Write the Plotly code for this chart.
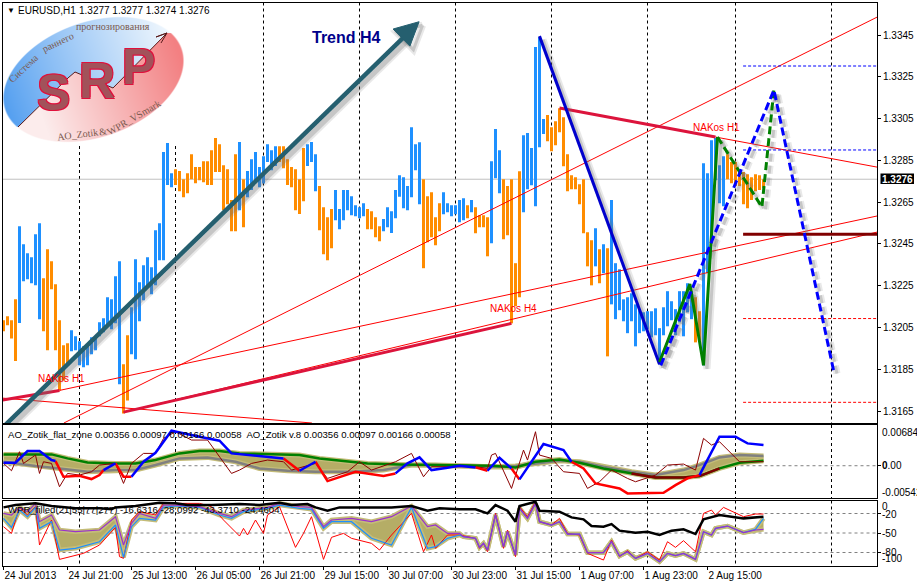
import base64, struct, zlib
import numpy as np
import plotly.graph_objects as go

W, H = 917, 583

# ---------- price bars (H1) ----------
bar_high = [
 1.32085,1.32104,1.32085,1.32185,1.32535,1.32449,1.32406,1.32387,1.32497,1.32549,
 1.32286,1.32425,1.32367,1.32257,1.32085,1.31965,1.31975,1.32037,1.32008,1.31984,
 1.31960,1.31960,1.32003,1.32003,1.32075,1.32094,1.32195,1.32185,1.32296,1.32367,
 1.31874,1.32013,1.32147,1.32377,1.32267,1.32348,1.32387,1.32339,1.32516,1.32549,
 1.32890,1.32933,1.32789,1.32808,1.32799,1.32760,1.32789,1.32880,1.32818,1.32818,
 1.32846,1.32846,1.32899,1.32957,1.32928,1.32827,1.32808,1.32660,1.32880,1.32938,
 1.32760,1.32799,1.32856,1.32890,1.32818,1.32870,1.32928,1.32899,1.32918,1.32918,
 1.32918,1.32856,1.32818,1.32808,1.32760,1.32909,1.32928,1.32938,1.32880,1.32727,
 1.32626,1.32578,1.32617,1.32708,1.32617,1.32708,1.32708,1.32679,1.32636,1.32626,
 1.32645,1.32617,1.32607,1.32578,1.32535,1.32569,1.32626,1.32607,1.32708,1.32779,
 1.32770,1.32727,1.33009,1.32928,1.32937,1.32760,1.32679,1.32698,1.32578,1.32645,
 1.32698,1.32645,1.32636,1.32636,1.32660,1.32669,1.32636,1.32660,1.32626,1.32588,
 1.32588,1.32578,1.32846,1.33000,1.32899,1.32760,1.32727,1.32760,1.32358,1.32798,
 1.32971,1.32981,1.32909,1.33393,1.33440,1.33048,1.33067,1.33009,1.33038,1.33100,
 1.33057,1.32880,1.32779,1.32770,1.32736,1.32760,1.32506,1.32468,1.32525,1.32425,
 1.32449,1.32430,1.32660,1.32358,1.32329,1.32185,1.32195,1.32214,1.32161,1.32133,
 1.32123,1.32128,1.32128,1.32142,1.32047,1.32147,1.32224,1.32176,1.32138,1.32224,
 1.32224,1.32262,1.32224,1.32195,1.32128,1.32837,1.32789,1.32947,1.32957,1.32827,
 1.32870,1.32880,1.32842,1.32842,1.32803,1.32794,1.32784,1.32770,1.32784,1.32779,
 1.32760]
bar_low = [
 1.32032,1.32061,1.31998,1.31890,1.32072,1.32272,1.32281,1.32262,1.32252,1.32090,
 1.32032,1.31941,1.32233,1.31941,1.31749,1.31797,1.31877,1.31936,1.31941,1.31869,
 1.31860,1.31869,1.31922,1.31941,1.32008,1.32027,1.32061,1.32042,1.32070,1.31778,
 1.31638,1.31701,1.31922,1.31898,1.32080,1.32181,1.32252,1.32209,1.32252,1.32372,
 1.32372,1.32732,1.32722,1.32732,1.32703,1.32674,1.32693,1.32760,1.32741,1.32755,
 1.32746,1.32732,1.32732,1.32794,1.32794,1.32612,1.32640,1.32511,1.32511,1.32612,
 1.32530,1.32674,1.32708,1.32755,1.32722,1.32739,1.32842,1.32803,1.32823,1.32842,
 1.32813,1.32732,1.32722,1.32612,1.32593,1.32655,1.32823,1.32842,1.32703,1.32516,
 1.32401,1.32372,1.32430,1.32564,1.32521,1.32564,1.32612,1.32588,1.32583,1.32573,
 1.32583,1.32521,1.32521,1.32482,1.32463,1.32511,1.32530,1.32502,1.32573,1.32676,
 1.32621,1.32612,1.32674,1.32803,1.32640,1.32334,1.32458,1.32482,1.32444,1.32511,
 1.32592,1.32602,1.32583,1.32592,1.32554,1.32564,1.32573,1.32602,1.32501,1.32530,
 1.32530,1.32391,1.32454,1.32765,1.32693,1.32473,1.32492,1.32070,1.32152,1.32195,
 1.32602,1.32712,1.32731,1.32631,1.32913,1.32976,1.32942,1.32894,1.32923,1.32985,
 1.32822,1.32703,1.32712,1.32712,1.32640,1.32501,1.32343,1.32252,1.32343,1.32262,
 1.32310,1.31912,1.32161,1.32090,1.32133,1.32080,1.32023,1.32080,1.31960,1.32023,
 1.32032,1.32042,1.32003,1.32013,1.31874,1.32013,1.32056,1.32085,1.32013,1.32075,
 1.32008,1.32123,1.32090,1.31979,1.31989,1.31869,1.32310,1.32454,1.32755,1.32645,
 1.32631,1.32760,1.32741,1.32727,1.32727,1.32640,1.32621,1.32660,1.32703,1.32708,
 1.32717]
bar_dir = ("DDDDUUUUUU" "DDDDDDDUUU" "UUUUUUUUUU" "DDUUUUUUUU" "UUUDDDDDDD"
           "DDDDDDDDDU" "DUUUUUUUUD" "DDDDDDUUUD" "DDDUUUUUUU" "UDDDDUUUUU"
           "UUUUUDDDDD" "UUUUUUDUDD" "DDUUUDDDDD" "UUUUUUDDDD" "DDDDDDDDUD"
           "UDUUUUUUUU" "UUUUUUUUUU" "UUUDDUUUUU" "UDDDDDDDDD" "D")

# ---------- trend objects on the price pane (bar index, price) ----------
trend_arrow_x = [-0.1, 100.6]
trend_arrow_p = [1.31573, 1.33450]
arrow_head_x = [103.9, 97.4, 101.6, 103.9]
arrow_head_p = [1.33514, 1.33479, 1.33397, 1.33514]
thick_a_x, thick_a_p = [30, 127], [1.31645, 1.32070]
thick_b_x, thick_b_p = [139, 178], [1.33101, 1.32962]
thick_c_x, thick_c_p = [-0.2, 14], [1.31703, 1.31749]
thin_lines = [
    ([14, 218.4], [1.31749, 1.32584]),
    ([30, 218.4], [1.31645, 1.32507]),
    ([15.1, 218.4], [1.31593, 1.33536]),
    ([-0.2, 77.1], [1.31712, 1.31593]),
    ([178, 218.4], [1.32962, 1.32818]),
]
down_leg_x, down_leg_p = [134, 164], [1.33445, 1.31874]
green_x = [164, 171.6, 175, 178.5]
green_p = [1.31885, 1.32258, 1.31869, 1.32962]
green_fc_x = [178.5, 189.6, 192.6]
green_fc_p = [1.32962, 1.32627, 1.33187]
blue_fc_x = [164.3, 192.6, 207.6]
blue_fc_p = [1.31869, 1.33187, 1.31837]
level_x = [184.9, 218.4]
level_blue = [1.33302, 1.32900]
level_red = [1.32093, 1.31692]
level_dark = 1.32497
last_price = 1.3276

# ---------- AO pane (values x 1e-5) ----------
ao_green_i = [0,8,12,16,21,28,33,38,44,49,54,59,66,74,79,86,91,99,108,114,
              122,128,133,139,144,150,157,163,170,174,179,184,190]
ao_green_v = [190,190,190,123,56,39,39,95,207,246,246,207,190,179,123,67,39,22,11,0,
              0,-28,67,106,50,-45,-129,-196,-196,-174,-45,50,84]
ao_grey_i = [0,8,14,21,28,33,38,44,51,58,64,71,78,87,95,102,108,114,
             122,128,133,139,144,150,157,163,170,174,179,184,190]
ao_grey_v = [67,-6,-45,-101,-73,-73,11,123,140,67,-45,-84,-101,-101,-73,11,11,0,
             -17,-6,39,84,67,-17,-101,-157,-73,11,140,179,162]
ao_rise = [
    ([0,3,6,9,12,13,], [50,50,246,246,95,78]),
    ([25,28], [-73,39]),
    ([32,35,38,42,49,54,57,70], [-185,67,218,588,487,420,207,123]),
    ([74,78], [-84,67]),
    ([98,101,104,107,111,114,118], [-129,39,140,-73,-34,0,-28]),
    ([121,124,127], [-84,134,-45]),
    ([129,135,140,142], [-230,364,263,67]),
    ([174,179,183,186,190], [-157,487,487,375,347]),
]
ao_fall = [
    ([13,15,19,22,24,25], [78,-185,-168,-224,-157,-73]),
    ([28,30,32], [39,-185,-185]),
    ([70,74], [123,-84]),
    ([78,81,88,95,98], [67,-258,-101,-174,-129]),
    ([118,121], [-28,-84]),
    ([127,129], [-45,-230]),
    ([142,145,148,154,156,165,168,171,174], [67,-45,-297,-381,-465,-454,-325,-213,-157]),
]
ao_raw_i = [0,2,4,5,8,9,10,12,14,16,19,22,24,28,30,32,35,38,40,43,47,51,57,59,62,66,70,72,78,81,86,89,92,98,102,105,107,110,114,
            118,121,122,123,125,127,130,131,133,134,137,140,144,146,149,152,156,158,163,166,170,173,175,177,179,184,190]
ao_raw_v = [39,-84,235,39,179,-129,67,39,-353,-129,-157,-101,11,39,-297,39,207,207,459,571,431,431,-129,-73,39,95,67,-73,39,-213,-101,67,-73,67,207,-185,-17,-17,-17,
            -17,-45,179,207,-73,-381,263,95,571,179,123,-101,-129,-381,-269,-73,-213,-269,-157,11,28,-73,459,347,403,67,67]

# ---------- WPR pane ----------
wpr_band_i = [0,2,4,6,8,9,12,14,18,24,28,30,32,34,38,40,43,49,54,57,60,66,69,74,77,80,82,87,92,97,102,106,108,111,114,
              115,118,119,120,121,123,125,126,128,129,131,133,134,137,139,141,144,146,150,152,154,156,158,161,164,166,168,170,173,175,177,178,181,185,188,190]
wpr_purple = [-19.8,-22.3,-10.6,-17.2,-4.4,-32.6,-22.3,-45.4,-48,-45.4,-24.9,-68.5,-35.2,-19.8,-27.5,-7,-7,-9.5,-19.8,-24.9,
              -14.7,-10.6,-4.4,-9.5,-10.6,-40.3,-30,-27.5,-32.6,-24.9,-8.5,-40.3,-37.7,-50.6,-50.6,
              -55.7,-58.2,-72.1,-65.9,-76.2,-22.3,-71,-48,-83.9,-12.1,-27.5,-4.4,-32.6,-37.7,-32.6,-51.6,-51.6,-80.3,-80.3,-63.4,
              -85.4,-78.8,-89,-81.3,-94.1,-81.3,-84.9,-81.3,-90.6,-48,-53.1,-42.9,-39.3,-49.5,-45.4,-44.4]
wpr_blue = [-27.5,-41.3,-14.7,-24.9,-10.6,-42.9,-32.6,-76.2,-73.6,-63.4,-37.7,-87.5,-40.3,-27.5,-30,-10.6,-8.5,-10.6,-22.3,-27.5,
            -17.2,-12.1,-7,-12.1,-13.6,-42.9,-32.6,-32.6,-58.2,-68.5,-10.6,-73.6,-71,-58.2,-53.1,
            -55.7,-58.2,-72.1,-65.9,-76.2,-22.3,-71,-48,-83.9,-12.1,-27.5,-4.4,-32.6,-37.7,-32.6,-51.6,-51.6,-80.3,-80.3,-63.4,
            -85.4,-78.8,-89,-81.3,-94.1,-81.3,-84.9,-81.3,-90.6,-48,-53.1,-42.9,-39.3,-49.5,-44.4,-27.5]
wpr_red_i = [0,2,4,6,8,9,12,14,20,24,28,29,30,32,34,38,40,49,52,55,59,60,61,63,65,66,69,73,75,77,80,82,85,87,92,94,97,102,105,107,108,111,114,
             118,119,120,121,123,125,126,128,129,131,133,134,137,139,141,144,146,150,152,154,156,158,161,164,166,168,170,173,175,177,178,180,185,188,190]
wpr_red = [-40.3,-50.6,-10.6,-22.3,-9.5,-68.5,-30,-90.6,-81.3,-68.5,-41.3,-86.4,-89,-30,-17.2,-22.3,-4.4,-4.4,-9.5,-30,
           -54.7,-42.9,-53.1,-30,-50.6,-22.3,-9.5,-72.1,-50.6,-24.9,-90.6,-56.7,-50.6,-58.2,-65.9,-76.2,-53.1,-19.8,-78.8,-53.1,-73.6,-53.1,-53.1,
           -58.2,-73.6,-65.9,-78.8,-19.8,-73.6,-45.4,-86.4,-9.5,-24.9,-1.8,-32.6,-37.7,-27.5,-50.6,-53.1,-81.3,-91.6,-60.8,-86.4,-77.2,-89,-78.8,-91.6,-63.4,-72.1,-61.8,-78.8,-19.8,-14.7,-22.3,-10.6,-24.9,-20.8,-20.8]
wpr_black_i = [0,3,8,12,18,24,27,28,33,36,39,43,46,52,59,64,69,72,76,78,81,84,91,97,102,106,109,114,
               118,121,123,126,128,129,133,134,139,142,145,147,150,152,154,158,161,164,167,170,173,175,179,185,190]
wpr_black = [-10.6,-7,-4.4,-8.5,-12.1,-12.1,-13.6,-10.6,-8.5,-5.4,-3.4,-4.4,-7,-7,-5.4,-7,-3.4,-7,-5.4,-10.6,-15.7,-10.6,-10.6,-10.6,-8.5,-15.7,-12.1,-13.6,
             -13.6,-19.8,-7,-15.7,-32.6,-8.5,-1.8,-15.7,-17.2,-26,-29,-39.3,-40.3,-36.2,-46.4,-49.5,-48,-53.1,-46.4,-44.4,-51.6,-29,-22.3,-27.5,-24.9]

# ---------- axes text ----------
price_ticks = [1.3165,1.3185,1.3205,1.3225,1.3245,1.3265,1.3285,1.3305,1.3325,1.3345]
time_tick_i = [0,16,32,48,64,80,96,112,128,144,160,176]
time_labels = ["24 Jul 2013","24 Jul 21:00","25 Jul 13:00","26 Jul 05:00","26 Jul 21:00","29 Jul 15:00",
               "30 Jul 07:00","30 Jul 23:00","31 Jul 15:00","1 Aug 07:00","1 Aug 23:00","2 Aug 15:00"]
session_i = [19,43,65,89,113,137,161,183,207]

FONT = "Liberation Sans"
BLUE, ORANGE = "#1E90FF", "#FF8C00"
KHAKI, OLIVE = "#C4BC78", "#B5AD66"
X_RANGE = [-0.25, 218.375]
P_RANGE = [1.31593, 1.33606]
PX_X = 4.0                 # px per bar
PX_P = 4.787e-5            # price per px


def yp(py):
    return 1 - py / H


def xp(px):
    return px / W


def logo_png():
    """Rotated ellipse with blue/pink gradients, as a small PNG with alpha."""
    s = 2
    w, h = 192 * s, 146 * s
    ys, xs = np.mgrid[0:h, 0:w]
    X, Y = (xs + .5) / s, (ys + .5) / s
    th = np.radians(19.3)
    dx, dy = X - 93.5, Y - 79.5
    u = dx * np.cos(th) - dy * np.sin(th)
    v = dx * np.sin(th) + dy * np.cos(th)
    r = np.sqrt((u / 94) ** 2 + (v / 58) ** 2)
    alpha = np.clip((1 - r) * 60, 0, 1)
    div = np.interp(X, [18, 68, 75, 113, 167], [127, 78, 72, 88, 33])
    t = np.clip((u + 94) / 188, 0, 1)[..., None]
    c1, c2 = np.array([82, 158, 240.]), np.array([245, 250, 254.])
    blue = c1 + (c2 - c1) * t ** .9
    c3, c4 = np.array([252, 236, 236.]), np.array([243, 128, 130.])
    pink = c3 + (c4 - c3) * np.clip((u + 60) / 150, 0, 1)[..., None]
    rgb = np.where((Y < div)[..., None], blue, pink)
    rgba = np.dstack([rgb, alpha * 255]).astype(np.uint8)
    raw = b"".join(b"\x00" + rgba[i].tobytes() for i in range(h))

    def chunk(tag, data):
        return struct.pack(">I", len(data)) + tag + data + struct.pack(">I", zlib.crc32(tag + data) & 0xffffffff)
    png = (b"\x89PNG\r\n\x1a\n" + chunk(b"IHDR", struct.pack(">IIBBBBB", w, h, 8, 6, 0, 0, 0))
           + chunk(b"IDAT", zlib.compress(raw, 9)) + chunk(b"IEND", b""))
    return "data:image/png;base64," + base64.b64encode(png).decode()


fig = go.Figure()


def add(x, y, color, width, dash=None, xa="x", ya="y", **kw):
    fig.add_trace(go.Scatter(x=x, y=y, mode="lines", xaxis=xa, yaxis=ya, hoverinfo="skip", showlegend=False,
                             line=dict(color=color, width=width, dash=dash), **kw))


def shadow(x, y, width, dash=None):
    sx = [a + 3.5 / PX_X for a in x]
    sy = [b - 3.5 * PX_P for b in y]
    add(sx, sy, "rgba(110,110,110,0.16)", width + 4, dash)
    add(sx, sy, "rgba(110,110,110,0.28)", width, dash)


idx = np.arange(len(bar_high))
hi, lo = np.array(bar_high), np.array(bar_low)
for flag, col in (("U", BLUE), ("D", ORANGE)):
    m = np.array([c == flag for c in bar_dir])
    fig.add_trace(go.Bar(x=idx[m], y=(hi - lo)[m], base=lo[m], width=0.75, marker=dict(color=col, line_width=0),
                         hoverinfo="skip", showlegend=False))

for tx, ty in thin_lines:
    add(tx, ty, "#FF0000", 1)
add(level_x, [level_blue[0]] * 2, "#0000FF", 1, "3px,2px")
add(level_x, [level_blue[1]] * 2, "#0000FF", 1, "3px,2px")
add(level_x, [level_red[0]] * 2, "#FF0000", 1, "3px,2px")
add(level_x, [level_red[1]] * 2, "#FF0000", 1, "3px,2px")
add(level_x, [level_dark] * 2, "#800000", 3)
for tx, ty in ((thick_a_x, thick_a_p), (thick_b_x, thick_b_p), (thick_c_x, thick_c_p)):
    add(tx, ty, "#DC143C", 3)

shadow(down_leg_x, down_leg_p, 3)
shadow(green_x, green_p, 3)
shadow(green_fc_x, green_fc_p, 3, "8px,4px")
shadow(blue_fc_x, blue_fc_p, 3, "8px,4px")
add(down_leg_x, down_leg_p, "#0000CD", 3)
add(green_x, green_p, "#008000", 3)
add(green_fc_x, green_fc_p, "#008000", 3, "8px,4px")
add(blue_fc_x, blue_fc_p, "#0000FF", 3, "8px,4px")

shadow(trend_arrow_x, trend_arrow_p, 5)
shadow(arrow_head_x, arrow_head_p, 3)
add(trend_arrow_x, trend_arrow_p, "#255F6F", 4.5)
fig.add_trace(go.Scatter(x=arrow_head_x, y=arrow_head_p, mode="lines", fill="toself", fillcolor="#255F6F",
                         line=dict(color="#255F6F", width=1), hoverinfo="skip", showlegend=False))

# AO pane
sc = 1e-5
add(ao_grey_i, [v * sc for v in ao_grey_v], KHAKI, 5, xa="x2", ya="y2")
add(ao_green_i, [v * sc for v in ao_green_v], KHAKI, 5, xa="x2", ya="y2", fill="tonexty", fillcolor=OLIVE)
add(ao_grey_i, [v * sc for v in ao_grey_v], "#808080", 2.5, xa="x2", ya="y2")
add(ao_green_i, [v * sc for v in ao_green_v], "#008000", 2.5, xa="x2", ya="y2")
dark = [k for k, i in enumerate(ao_green_i) if 157 <= i <= 179]
add([ao_green_i[k] for k in dark], [ao_green_v[k] * sc for k in dark], "#800000", 2.5, xa="x2", ya="y2")
add(ao_raw_i, [v * sc for v in ao_raw_v], "#8B0000", 1, xa="x2", ya="y2")
for segs, col in ((ao_fall, "#FF0000"), (ao_rise, "#0000FF")):
    for sx, sy in segs:
        add(sx, [v * sc for v in sy], col, 2.5, xa="x2", ya="y2")

# WPR pane
add(wpr_band_i, wpr_purple, KHAKI, 4.5, xa="x3", ya="y3")
add(wpr_band_i, wpr_blue, KHAKI, 4.5, xa="x3", ya="y3", fill="tonexty", fillcolor=OLIVE)
add(wpr_red_i, wpr_red, "#FF0000", 1, xa="x3", ya="y3")
add(wpr_band_i, wpr_blue, BLUE, 1.2, xa="x3", ya="y3")
add(wpr_band_i, wpr_purple, "#9932CC", 1.2, xa="x3", ya="y3")
add(wpr_black_i, wpr_black, "#000000", 2.5, xa="x3", ya="y3")

# panes
XD = [2.5 / W, 877 / W]
D1 = [yp(423), yp(2.5)]
D2 = [yp(498), yp(425)]
D3 = [yp(565.5), yp(500.5)]
frame = dict(showline=True, linecolor="#000000", linewidth=1, mirror=True, showgrid=False, zeroline=False)
shapes = []
for i in session_i:
    for ya, top, bot in (("y", 146 if i in (19, 43) else 2.5, 423), ("y2", 425, 498), ("y3", 500.5, 565.5)):
        shapes.append(dict(type="line", xref="x", yref="paper", x0=i, x1=i, y0=yp(top), y1=yp(bot),
                           layer="below", line=dict(color="#000000", width=1, dash="3px,3px")))
shapes.append(dict(type="line", xref="x", yref="y", x0=X_RANGE[0], x1=X_RANGE[1], y0=last_price, y1=last_price,
                   layer="below", line=dict(color="#C0C0C0", width=1)))
shapes.append(dict(type="line", xref="x2", yref="y2", x0=X_RANGE[0], x1=X_RANGE[1], y0=0, y1=0, layer="below",
                   line=dict(color="#808080", width=1, dash="3px,3px")))
for lvl in (-20, -50, -80):
    shapes.append(dict(type="line", xref="x3", yref="y3", x0=X_RANGE[0], x1=X_RANGE[1], y0=lvl, y1=lvl, layer="below",
                       line=dict(color="#808080", width=1, dash="3px,3px")))
# logo price path
zig = [(18, 127), (68, 78), (75, 72), (113, 88), (167, 33), (156, 37), (167, 33), (161, 43)]
shapes.append(dict(type="path", xref="paper", yref="paper", layer="above",
                   path="M " + " L ".join(f"{xp(a):.5f},{yp(b):.5f}" for a, b in zig),
                   line=dict(color="#5A1A1A", width=1)))
# last price box
shapes.append(dict(type="rect", xref="paper", yref="paper", x0=xp(880.5), x1=xp(914), y0=yp(184), y1=yp(173.5),
                   fillcolor="#000000", line_width=0, layer="above"))


def ann(text, px, py, size=10, color="#000000", anchor="left", angle=0, family=FONT, **kw):
    return dict(text=text, x=xp(px), y=yp(py), xref="paper", yref="paper", xanchor=anchor, yanchor="middle",
                showarrow=False, textangle=angle, font=dict(size=size, color=color, family=family, **kw.pop("fontkw", {})),
                borderpad=0, **kw)


outline = "1px 1px 0 #E0103C,-1px -1px 0 #E0103C,1px -1px 0 #E0103C,-1px 1px 0 #E0103C"
anns = [
    ann("▼", 6, 10.5, size=8),
    ann("EURUSD,H1", 17, 11),
    ann("1.3277 1.3277 1.3274 1.3276", 78, 11),
    ann("<b>Trend H4</b>", 346, 37, size=16, color="#00008B", anchor="center"),
    ann("NAKos H1", 37, 378, color="#FF0000"),
    ann("NAKos H4", 489, 308.5, color="#FF0000"),
    ann("NAKos H1", 692, 127.5, color="#FF0000"),
    ann("<b>1.3276</b>", 897, 179, color="#FFFFFF", anchor="center"),
    ann("AO_Zotik_flat_zone 0.00356 0.00097 0.00166 0.00058  AO_Zotik v.8 0.00356 0.00097 0.00166 0.00058", 7, 434.5, size=9.6),
    ann("WPR_filled(21|55|77|277) -16.6316 -28.0992 -43.3710 -24.4604", 7, 509.5, size=9.6),
    ann("0.00684", 881, 432.5), ann("<b>0</b>.00", 881, 465.5), ann("-0.00542", 881, 492),
    ann("0", 881, 507), ann("-20", 881, 514), ann("-50", 881, 533), ann("-80", 881, 552), ann("-100", 881, 558.5),
    # logo texts
    ann("Система", 23, 68, size=10, color="#7A5A50", anchor="center", angle=-43, family="Liberation Serif"),
    ann("раннего", 57, 42, size=10, color="#7A5A50", anchor="center", angle=-25, family="Liberation Serif"),
    ann("прогнозирования", 113, 26.5, size=10, color="#7A5A50", anchor="center", angle=0, family="Liberation Serif"),
    ann("AO_Zotik", 77, 134, size=10, color="#7A5A50", anchor="center", angle=-7, family="Liberation Serif"),
    ann("&", 103, 132, size=10, color="#7A5A50", anchor="center", angle=-12, family="Liberation Serif"),
    ann("WPR_VSmark", 134, 118, size=10, color="#7A5A50", anchor="center", angle=-30, family="Liberation Serif"),
]
for ch, px, py in (("S", 53, 93), ("R", 97, 81), ("P", 138, 67)):
    a = ann(f"<b>{ch}</b>", px, py, size=50, color="#A2525A", anchor="center")
    a["font"]["shadow"] = outline
    anns.append(a)

fig.update_layout(
    width=W, height=H, margin=dict(l=0, r=0, t=0, b=0), autosize=False, paper_bgcolor="#FFFFFF", plot_bgcolor="#FFFFFF",
    barmode="overlay", showlegend=False, font=dict(family=FONT, size=10, color="#000000"),
    shapes=shapes, annotations=anns,
    images=[dict(source=logo_png(), xref="paper", yref="paper", x=0, y=yp(0), sizex=192 / W, sizey=146 / H,
                 xanchor="left", yanchor="top", sizing="stretch", layer="below")],
    xaxis=dict(domain=XD, range=X_RANGE, anchor="y", ticks="", showticklabels=False, **frame),
    yaxis=dict(domain=D1, range=P_RANGE, side="right", anchor="x", tickvals=price_ticks,
               ticktext=[f"{v:.4f}" for v in price_ticks], ticks="outside", ticklen=3, tickcolor="#000000", **frame),
    xaxis2=dict(domain=XD, range=X_RANGE, anchor="y2", matches="x", ticks="", showticklabels=False, **frame),
    yaxis2=dict(domain=D2, range=[-0.00542, 0.00684], side="right", anchor="x2", tickvals=[0], ticks="outside", ticklen=3,
                tickcolor="#000000", showticklabels=False, **frame),
    xaxis3=dict(domain=XD, range=X_RANGE, anchor="y3", matches="x", tickvals=time_tick_i, ticktext=time_labels,
                ticks="outside", ticklen=3, tickcolor="#000000", ticklabelposition="outside right", **frame),
    yaxis3=dict(domain=D3, range=[-100, 0], side="right", anchor="x3", tickvals=[-20, -50, -80], ticks="outside", ticklen=3,
                tickcolor="#000000", showticklabels=False, **frame),
)

fig.write_html("out.html", config={"displayModeBar": False},
               post_script="document.body.style.margin='0';")
